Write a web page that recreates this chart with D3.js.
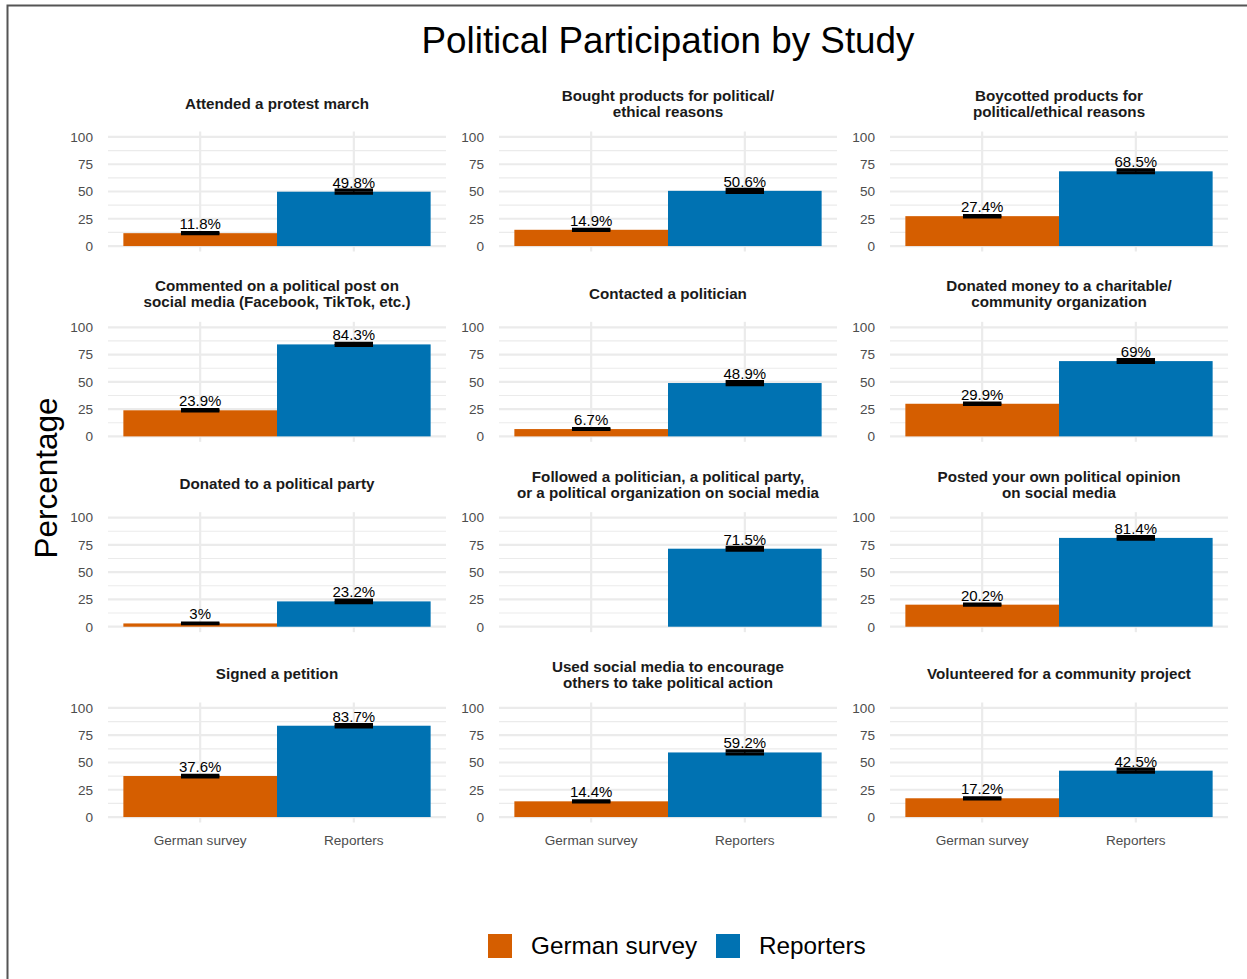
<!DOCTYPE html>
<html>
<head>
<meta charset="utf-8">
<script src="https://cdn.jsdelivr.net/npm/d3@7"></script>
<style>
  html, body { margin: 0; padding: 0; background: #fff; }
  svg { display: block; font-family: "Liberation Sans", Arial, Helvetica, sans-serif; }
</style>
</head>
<body>
<svg id="chart" width="1247" height="979"></svg>
<script>
// Survey items (facet titles, line breaks as displayed)
const items = [
  "Attended a protest march",
  "Bought products for political/\nethical reasons",
  "Boycotted products for\npolitical/ethical reasons",
  "Commented on a political post on\nsocial media (Facebook, TikTok, etc.)",
  "Contacted a politician",
  "Donated money to a charitable/\ncommunity organization",
  "Donated to a political party",
  "Followed a politician, a political party,\nor a political organization on social media",
  "Posted your own political opinion\non social media",
  "Signed a petition",
  "Used social media to encourage\nothers to take political action",
  "Volunteered for a community project"
];
const studies = ["German survey", "Reporters"];

// Percentages per item (null = item not asked)
const germanValues   = [11.8, 14.9, 27.4, 23.9, 6.7, 29.9, 3, null, 20.2, 37.6, 14.4, 17.2];
const reporterValues = [49.8, 50.6, 68.5, 84.3, 48.9, 69, 23.2, 71.5, 81.4, 83.7, 59.2, 42.5];
// Half-widths of the confidence intervals (percentage points)
const germanErr   = [0.5, 0.5, 0.6, 0.6, 0.4, 0.6, 0.3, null, 0.5, 0.7, 0.5, 0.5];
const reporterErr = [1.4, 1.4, 1.3, 1.0, 1.4, 1.3, 1.2, 1.3, 1.1, 1.0, 1.4, 1.4];

const yTicks = [0, 25, 50, 75, 100];
const yMinor = [12.5, 37.5, 62.5, 87.5];
const colors = { "German survey": "#D55E00", "Reporters": "#0072B2" };

const svg = d3.select("#chart");

// outer frame
svg.append("path")
  .attr("d", "M7.5,979 V5.5 H1247")
  .attr("fill", "none").attr("stroke", "#555").attr("stroke-width", 2);

// main title
svg.append("text")
  .attr("x", 668).attr("y", 53)
  .attr("text-anchor", "middle")
  .attr("font-size", 36.8).attr("fill", "#000")
  .text("Political Participation by Study");

// y axis title
svg.append("text")
  .attr("transform", "translate(57,478) rotate(-90)")
  .attr("text-anchor", "middle")
  .attr("font-size", 31.5).attr("fill", "#000")
  .text("Percentage");

const panelW = 338, colX = [108, 499, 890];
const panelTop0 = 131.5, rowStep = 190.33, panelH = 120;

items.forEach((title, i) => {
  const col = i % 3, row = Math.floor(i / 3);
  const left = colX[col], top = panelTop0 + row * rowStep;
  const g = svg.append("g").attr("transform", `translate(${left},${top})`);

  const x = d3.scaleBand().domain(studies).range([0, panelW]).paddingInner(0).paddingOuter(0.1);
  const y = d3.scaleLinear().domain([-5, 105]).range([panelH, 0]);

  // grid
  g.selectAll(".minor").data(yMinor).join("line")
    .attr("x1", 0).attr("x2", panelW)
    .attr("y1", d => y(d)).attr("y2", d => y(d))
    .attr("stroke", "#ebebeb").attr("stroke-width", 1.1);
  g.selectAll(".major").data(yTicks).join("line")
    .attr("x1", 0).attr("x2", panelW)
    .attr("y1", d => y(d)).attr("y2", d => y(d))
    .attr("stroke", "#ebebeb").attr("stroke-width", 2.2);
  g.selectAll(".vgrid").data(studies).join("line")
    .attr("x1", d => x(d) + x.bandwidth() / 2).attr("x2", d => x(d) + x.bandwidth() / 2)
    .attr("y1", 0).attr("y2", panelH)
    .attr("stroke", "#ebebeb").attr("stroke-width", 2.2);

  // y tick labels
  const ya = g.append("g").call(d3.axisLeft(y).tickValues(yTicks).tickSize(0).tickPadding(15));
  ya.select(".domain").remove();
  ya.selectAll("text").attr("font-size", 13.6).attr("fill", "#4d4d4d")
    .attr("font-family", "Liberation Sans, Arial, sans-serif");

  // x tick labels on the bottom row only
  if (row === 3) {
    const xa = g.append("g").attr("transform", `translate(0,${panelH})`)
      .call(d3.axisBottom(x).tickSize(0).tickPadding(13));
    xa.select(".domain").remove();
    xa.selectAll("text").attr("font-size", 13.6).attr("fill", "#4d4d4d")
      .attr("font-family", "Liberation Sans, Arial, sans-serif");
  }

  // facet title
  const lines = title.split("\n");
  const tt = g.append("text").attr("text-anchor", "middle")
    .attr("font-size", 15.2).attr("font-weight", "bold").attr("fill", "#1a1a1a");
  lines.forEach((ln, k) => {
    const base = lines.length === 1 ? -23 : (k === 0 ? -30.5 : -14.5);
    tt.append("tspan").attr("x", panelW / 2).attr("y", base).text(ln);
  });

  const data = [
    { study: "German survey", v: germanValues[i], e: germanErr[i] },
    { study: "Reporters", v: reporterValues[i], e: reporterErr[i] }
  ].filter(d => d.v !== null);

  // bars
  g.selectAll(".bar").data(data).join("rect")
    .attr("x", d => x(d.study)).attr("width", x.bandwidth())
    .attr("y", d => y(d.v)).attr("height", d => y(0) - y(d.v))
    .attr("fill", d => colors[d.study]);

  // error bars
  const ew = x.bandwidth() * 0.25;
  const eb = g.selectAll(".err").data(data).join("g");
  eb.append("line")
    .attr("x1", d => x(d.study) + x.bandwidth() / 2).attr("x2", d => x(d.study) + x.bandwidth() / 2)
    .attr("y1", d => y(d.v - d.e)).attr("y2", d => y(d.v + d.e))
    .attr("stroke", "#000").attr("stroke-width", 1.2);
  [-1, 1].forEach(s => {
    eb.append("line")
      .attr("x1", d => x(d.study) + x.bandwidth() / 2 - ew / 2)
      .attr("x2", d => x(d.study) + x.bandwidth() / 2 + ew / 2)
      .attr("y1", d => y(d.v + s * d.e)).attr("y2", d => y(d.v + s * d.e))
      .attr("stroke", "#000").attr("stroke-width", 3.2);
  });

  // value labels
  g.selectAll(".lbl").data(data).join("text")
    .attr("x", d => x(d.study) + x.bandwidth() / 2)
    .attr("y", d => y(d.v) - 4)
    .attr("text-anchor", "middle").attr("font-size", 15).attr("fill", "#000")
    .text(d => `${d.v}%`);
});

// legend
const legend = svg.append("g");
const legendX = [488, 716];
studies.forEach((s, k) => {
  legend.append("rect").attr("x", legendX[k]).attr("y", 934).attr("width", 24).attr("height", 24)
    .attr("fill", colors[s]);
  legend.append("text").attr("x", legendX[k] + 43).attr("y", 954)
    .attr("font-size", 24.3).attr("fill", "#000").text(s);
});
</script>
</body>
</html>
